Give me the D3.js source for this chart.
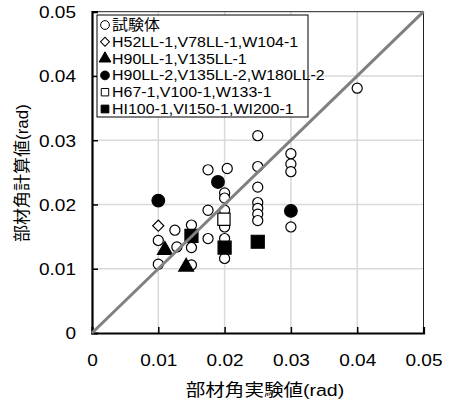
<!DOCTYPE html>
<html>
<head>
<meta charset="utf-8">
<script src="https://cdn.jsdelivr.net/npm/d3@7"></script>
<style>
  body { margin: 0; background: #fff; }
  text { font-family: "Liberation Sans", Arial, "Noto Sans CJK JP", sans-serif; }
</style>
</head>
<body>
<svg width="457" height="401"></svg>
<script>
// data
const ticks = [0, 0.01, 0.02, 0.03, 0.04, 0.05];
const tickLabels = ["0", "0.01", "0.02", "0.03", "0.04", "0.05"];

const specimens = [
  [0.01, 0.0144], [0.01, 0.0107], [0.0125, 0.016], [0.0128, 0.0134],
  [0.015, 0.0168], [0.015, 0.0133], [0.015, 0.0106],
  [0.0175, 0.0254], [0.0204, 0.0256], [0.02, 0.0218], [0.02, 0.021],
  [0.0175, 0.0191], [0.02, 0.0191], [0.02, 0.0165], [0.0175, 0.0147],
  [0.02, 0.0147], [0.02, 0.0116],
  [0.025, 0.0307], [0.025, 0.0259], [0.025, 0.0227], [0.025, 0.0203],
  [0.025, 0.0194], [0.025, 0.0185], [0.025, 0.0175],
  [0.03, 0.0279], [0.03, 0.0263], [0.03, 0.0251], [0.03, 0.0165],
  [0.04, 0.0381]
];
const h52 = [[0.01, 0.0167]];
const h90_1 = [[0.011, 0.0129], [0.0142, 0.0103]];
const h90_2 = [[0.01, 0.0206], [0.019, 0.0235], [0.03, 0.019]];
const h67 = [[0.0199, 0.0177]];
const hi100 = [[0.015, 0.0151], [0.02, 0.0133], [0.025, 0.0142]];

const legendLabels = [
  "試験体",
  "H52LL-1,V78LL-1,W104-1",
  "H90LL-1,V135LL-1",
  "H90LL-2,V135LL-2,W180LL-2",
  "H67-1,V100-1,W133-1",
  "HI100-1,VI150-1,WI200-1"
];

const svg = d3.select("svg");
const x = d3.scaleLinear().domain([0, 0.05]).range([92, 423.5]);
const y = d3.scaleLinear().domain([0, 0.05]).range([333, 11.7]);
const SX = 1.12; // text in the picture is a bit stretched sideways

// series styles: symbol, size, fill, rotate
const series = [
  { data: specimens, type: d3.symbolCircle, size: 80, fill: "#fff", rot: 0, lsize: 60 },
  { data: h52, type: d3.symbolSquare, size: 62, fill: "#fff", rot: 45, lsize: 40 },
  { data: h90_1, type: d3.symbolTriangle, size: 95, fill: "#000", rot: 0, lsize: 60 },
  { data: h90_2, type: d3.symbolCircle, size: 125, fill: "#000", rot: 0, lsize: 60 },
  { data: h67, type: d3.symbolSquare, size: 150, fill: "#fff", rot: 0, lsize: 55 },
  { data: hi100, type: d3.symbolSquare, size: 170, fill: "#000", rot: 0, lsize: 60 }
];

// gridlines
svg.append("g")
  .selectAll("line")
  .data(ticks.slice(1, -1))
  .join("line")
  .attr("x1", (d) => x(d)).attr("x2", (d) => x(d))
  .attr("y1", y(0)).attr("y2", y(0.05))
  .attr("stroke", "#d9d9d9").attr("stroke-width", 1.5);
svg.append("g")
  .selectAll("line")
  .data(ticks.slice(1, -1))
  .join("line")
  .attr("y1", (d) => y(d)).attr("y2", (d) => y(d))
  .attr("x1", x(0)).attr("x2", x(0.05))
  .attr("stroke", "#d9d9d9").attr("stroke-width", 1.5);

// frame (top/right thin)
svg.append("path")
  .attr("d", `M${x(0)},${y(0.05)}H${x(0.05)}V${y(0)}`)
  .attr("fill", "none").attr("stroke", "#222").attr("stroke-width", 1);

// axes with inside ticks
const xAxis = svg.append("g").attr("transform", `translate(0,${y(0)})`)
  .call(d3.axisBottom(x).tickValues(ticks).tickSize(-6).tickFormat((d, i) => tickLabels[i]));
const yAxis = svg.append("g").attr("transform", `translate(${x(0)},0)`)
  .call(d3.axisLeft(y).tickValues(ticks).tickSize(-6).tickFormat((d, i) => tickLabels[i]));
[xAxis, yAxis].forEach((g) => {
  g.select(".domain").attr("stroke", "#000").attr("stroke-width", 2.2);
  g.selectAll(".tick line").attr("stroke", "#000").attr("stroke-width", 1.5);
  g.selectAll(".tick text").attr("fill", "#000").style("font-size", "17px");
});
xAxis.selectAll(".tick text").attr("x", 0).attr("y", 33).attr("dy", null)
  .attr("transform", `scale(${SX},1)`);
yAxis.selectAll(".tick text").attr("x", -16 / SX).attr("dy", "0.35em")
  .attr("transform", `scale(${SX},1)`);
xAxis.selectAll(".tick").filter((d) => d === 0 || d === 0.05).select("line").remove();
yAxis.selectAll(".tick").filter((d) => d === 0 || d === 0.05).select("line").remove();

// points
series.forEach((s) => {
  svg.append("g")
    .selectAll("path")
    .data(s.data)
    .join("path")
    .attr("d", d3.symbol().type(s.type).size(s.size))
    .attr("transform", (d) => `translate(${x(d[0])},${y(d[1])}) rotate(${s.rot})`)
    .attr("fill", s.fill)
    .attr("stroke", "#000")
    .attr("stroke-width", 1.2);
});

// diagonal
svg.append("line")
  .attr("x1", x(0)).attr("y1", y(0))
  .attr("x2", x(0.05)).attr("y2", y(0.05))
  .attr("stroke", "#808080").attr("stroke-width", 3);

// legend
const legend = svg.append("g");
legend.append("rect")
  .attr("x", 97).attr("y", 15).attr("width", 211).attr("height", 102)
  .attr("fill", "#fff").attr("stroke", "#000").attr("stroke-width", 1);
legendLabels.forEach((lab, i) => {
  const cy = 25 + i * 16.8;
  const s = series[i];
  legend.append("path")
    .attr("d", d3.symbol().type(s.type).size(s.lsize))
    .attr("transform", `translate(105,${cy}) rotate(${s.rot})`)
    .attr("fill", s.fill).attr("stroke", "#000").attr("stroke-width", 1);
  legend.append("text")
    .attr("transform", `translate(112,${cy + 5}) scale(1.1,1)`)
    .style("font-size", "14.5px")
    .text(lab);
});

// titles
svg.append("text")
  .attr("transform", "translate(265,396) scale(1.15,1)")
  .attr("text-anchor", "middle")
  .style("font-size", "17px")
  .text("部材角実験値(rad)");
svg.append("text")
  .attr("transform", "translate(28,173) rotate(-90)")
  .attr("text-anchor", "middle")
  .style("font-size", "17px")
  .text("部材角計算値(rad)");
</script>
</body>
</html>
